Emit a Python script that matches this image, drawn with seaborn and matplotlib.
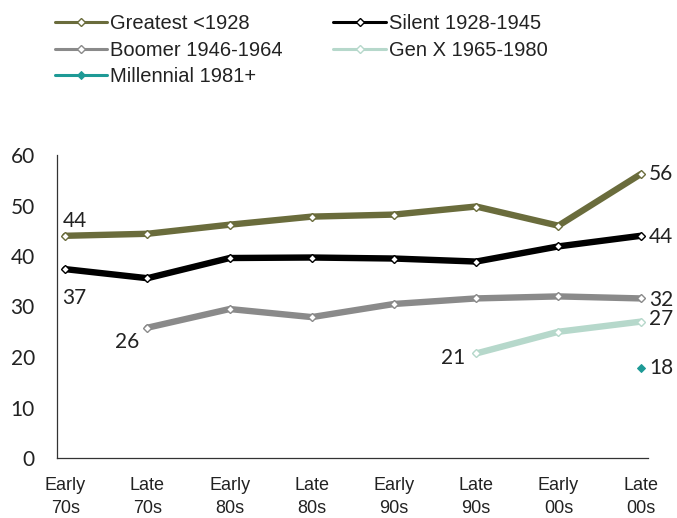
import numpy as np
import pandas as pd
import matplotlib
matplotlib.use("Agg")
import matplotlib.pyplot as plt
import seaborn as sns

# --- data ---
periods = ["Early\n70s", "Late\n70s", "Early\n80s", "Late\n80s",
           "Early\n90s", "Late\n90s", "Early\n00s", "Late\n00s"]
greatest = [44.0, 44.4, 46.2, 47.8, 48.2, 49.8, 46.0, 56.2]
silent = [37.4, 35.6, 39.6, 39.7, 39.5, 38.9, 41.9, 44.0]
boomer = [np.nan, 25.8, 29.5, 27.9, 30.5, 31.6, 32.0, 31.6]
genx = [np.nan, np.nan, np.nan, np.nan, np.nan, 20.7, 25.0, 27.0]
millennial = [np.nan, np.nan, np.nan, np.nan, np.nan, np.nan, np.nan, 17.9]

series_names = ["Greatest <1928", "Silent 1928-1945", "Boomer 1946-1964",
                "Gen X 1965-1980", "Millennial 1981+"]
series_values = [greatest, silent, boomer, genx, millennial]
colors = ["#6a6c3c", "#000000", "#8a8a8a", "#b6d8cb", "#1e9a96"]

rows = []
for name, vals in zip(series_names, series_values):
    for p, v in zip(periods, vals):
        if not np.isnan(v):
            rows.append({"period": p, "value": v, "gen": name})
df = pd.DataFrame(rows)

# --- figure ---
sns.set_style("white")
plt.rcParams["font.family"] = ["Liberation Sans", "DejaVu Sans"]

fig = plt.figure(figsize=(6.77, 5.18), dpi=100)
ax = fig.add_axes([57 / 677, 1 - 458 / 518, (648 - 57) / 677, (458 - 155) / 518])

for name, col in zip(series_names, colors):
    sub = df[df["gen"] == name]
    if name.startswith("Millennial"):
        sns.lineplot(data=sub, x="period", y="value", ax=ax, color=col,
                     marker="D", markersize=4.5, markerfacecolor=col,
                     markeredgecolor=col, linewidth=2.2, label=name)
    else:
        sns.lineplot(data=sub, x="period", y="value", ax=ax, color=col,
                     linewidth=4.6, marker="D", markersize=4.5,
                     markerfacecolor="white", markeredgecolor=col,
                     markeredgewidth=1, label=name)

ax.set_ylim(0, 60)
ax.set_xlim(-0.1, 7.09)
ax.set_yticks(range(0, 61, 10))
ax.set_xlabel("")
ax.set_ylabel("")
sns.despine(ax=ax)
for s in ["left", "bottom"]:
    ax.spines[s].set_color("#333333")
    ax.spines[s].set_linewidth(0.9)
ax.tick_params(axis="y", length=0, pad=16, labelsize=15)
ax.tick_params(axis="x", length=0, pad=14, labelsize=13)
for t in ax.get_yticklabels():
    t.set_fontfamily("Lato")
    t.set_color("#222222")
for t in ax.get_xticklabels():
    t.set_linespacing(1.4)
    t.set_color("#222222")

# --- data labels ---
lab = dict(fontsize=15, family="Lato", color="#222222", textcoords="offset points")
last = len(periods) - 1
ax.annotate(f"{round(greatest[0])}", (0, greatest[0]), xytext=(-2, 11), ha="left", va="center", **lab)
ax.annotate(f"{round(silent[0])}", (0, silent[0]), xytext=(-2, -21), ha="left", va="center", **lab)
ax.annotate(f"{round(boomer[1])}", (1, boomer[1]), xytext=(-6, -10), ha="right", va="center", **lab)
ax.annotate(f"{round(genx[5])}", (5, genx[5]), xytext=(-8, -3), ha="right", va="center", **lab)
ax.annotate(f"{round(greatest[last])}", (last, greatest[last]), xytext=(6, 0), ha="left", va="center", **lab)
ax.annotate(f"{round(silent[last])}", (last, silent[last]), xytext=(6, -1), ha="left", va="center", **lab)
ax.annotate(f"{round(boomer[last])}", (last, boomer[last]), xytext=(6, -1), ha="left", va="center", **lab)
ax.annotate(f"{round(genx[last])}", (last, genx[last]), xytext=(6, 2), ha="left", va="center", **lab)
ax.annotate(f"{round(millennial[last])}", (last, millennial[last]), xytext=(6, 0), ha="left", va="center", **lab)

# --- legend at top ---
handles, labels = ax.get_legend_handles_labels()
ax.get_legend().remove()
order = [0, 2, 4, 1, 3]
leg = fig.legend([handles[i] for i in order], [labels[i] for i in order],
                 loc="upper left", bbox_to_anchor=(55 / 677, 1 - 14 / 518),
                 ncol=2, frameon=False, fontsize=14.5, handlelength=2.6,
                 handletextpad=0.15, columnspacing=2.5, labelspacing=0.38,
                 borderpad=0, borderaxespad=0)
for ln in leg.get_lines():
    ln.set_linewidth(2.2)
for t in leg.get_texts():
    t.set_color("#222222")

fig.savefig("out.png", dpi=100)
